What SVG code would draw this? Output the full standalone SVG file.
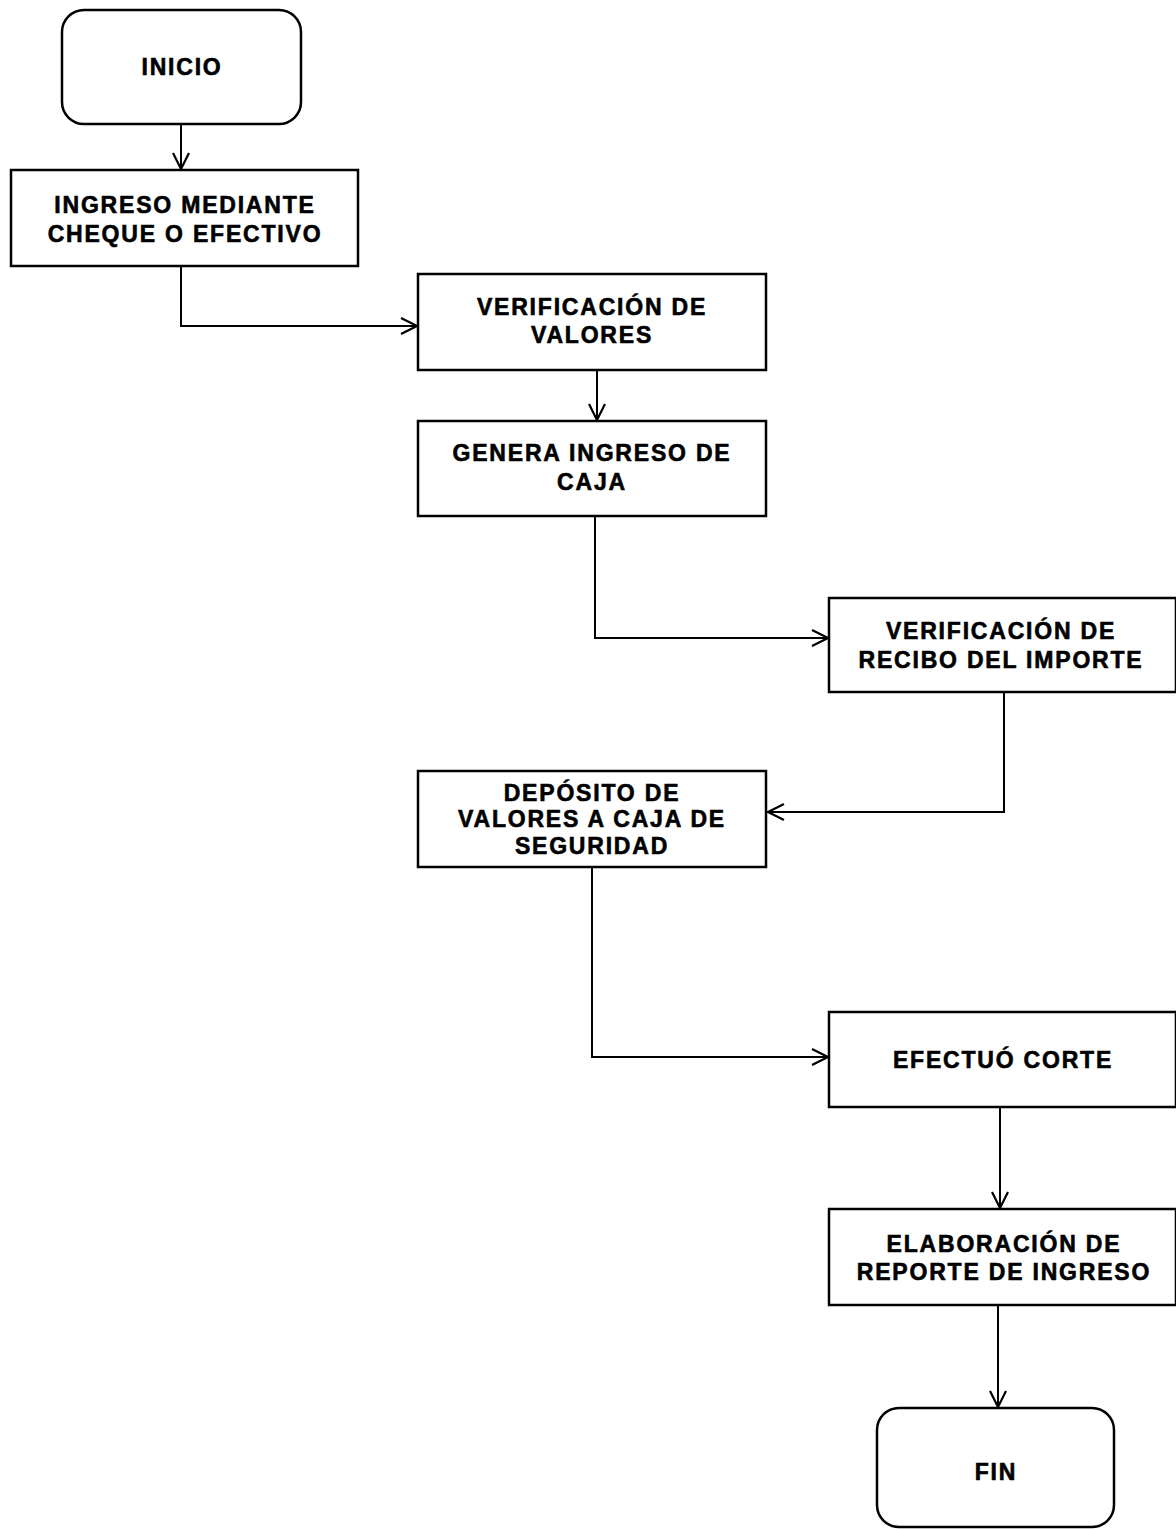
<svg xmlns="http://www.w3.org/2000/svg" width="1176" height="1529" viewBox="0 0 1176 1529">
<defs>
<marker id="arr" viewBox="0 0 20 20" refX="19" refY="10" markerWidth="20" markerHeight="20" markerUnits="userSpaceOnUse" orient="auto">
<path d="M3,2 L19,10 L3,18" fill="none" stroke="#000" stroke-width="2.2"/>
</marker>
<style>
.box{fill:#fff;stroke:#000;stroke-width:2.5}
.t{font-family:"Liberation Sans",Arial,sans-serif;font-weight:bold;font-size:23px;letter-spacing:1.8px;text-anchor:middle;fill:#000;stroke:#000;stroke-width:0.6}
.c{fill:none;stroke:#000;stroke-width:2}
</style>
</defs>
<rect width="1176" height="1529" fill="#fff"/>
<g id="connectors">
<path class="c" d="M181,124 V169" marker-end="url(#arr)"/>
<path class="c" d="M181,266 V326 H417" marker-end="url(#arr)"/>
<path class="c" d="M597,370 V420" marker-end="url(#arr)"/>
<path class="c" d="M595,516 V638 H828" marker-end="url(#arr)"/>
<path class="c" d="M1004,692 V812 H768" marker-end="url(#arr)"/>
<path class="c" d="M592,867 V1057 H828" marker-end="url(#arr)"/>
<path class="c" d="M1000,1107 V1208" marker-end="url(#arr)"/>
<path class="c" d="M998,1305 V1407" marker-end="url(#arr)"/>
</g>
<g id="inicio">
<rect class="box" x="62" y="10" width="239" height="114" rx="22"/>
<text class="t" x="182" y="75" letter-spacing="0.5">INICIO</text>
</g>
<g id="ingreso">
<rect class="box" x="11" y="170" width="347" height="96"/>
<text class="t" x="185" y="213">INGRESO MEDIANTE</text>
<text class="t" x="185" y="242">CHEQUE O EFECTIVO</text>
</g>
<g id="verif-valores">
<rect class="box" x="418" y="274" width="348" height="96"/>
<text class="t" x="592" y="315">VERIFICACIÓN DE</text>
<text class="t" x="592" y="343">VALORES</text>
</g>
<g id="genera">
<rect class="box" x="418" y="421" width="348" height="95"/>
<text class="t" x="592" y="461">GENERA INGRESO DE</text>
<text class="t" x="592" y="490">CAJA</text>
</g>
<g id="verif-recibo">
<rect class="box" x="829" y="598" width="347" height="94"/>
<text class="t" x="1001" y="639">VERIFICACIÓN DE</text>
<text class="t" x="1001" y="668">RECIBO DEL IMPORTE</text>
</g>
<g id="deposito">
<rect class="box" x="418" y="771" width="348" height="96"/>
<text class="t" x="592" y="801">DEPÓSITO DE</text>
<text class="t" x="592" y="827">VALORES A CAJA DE</text>
<text class="t" x="592" y="854">SEGURIDAD</text>
</g>
<g id="corte">
<rect class="box" x="829" y="1012" width="347" height="95"/>
<text class="t" x="1003" y="1068">EFECTUÓ CORTE</text>
</g>
<g id="reporte">
<rect class="box" x="829" y="1209" width="347" height="96"/>
<text class="t" x="1004" y="1252">ELABORACIÓN DE</text>
<text class="t" x="1004" y="1280">REPORTE DE INGRESO</text>
</g>
<g id="fin">
<rect class="box" x="877" y="1408" width="237" height="119" rx="22"/>
<text class="t" x="996" y="1480" letter-spacing="0.5">FIN</text>
</g>
</svg>
